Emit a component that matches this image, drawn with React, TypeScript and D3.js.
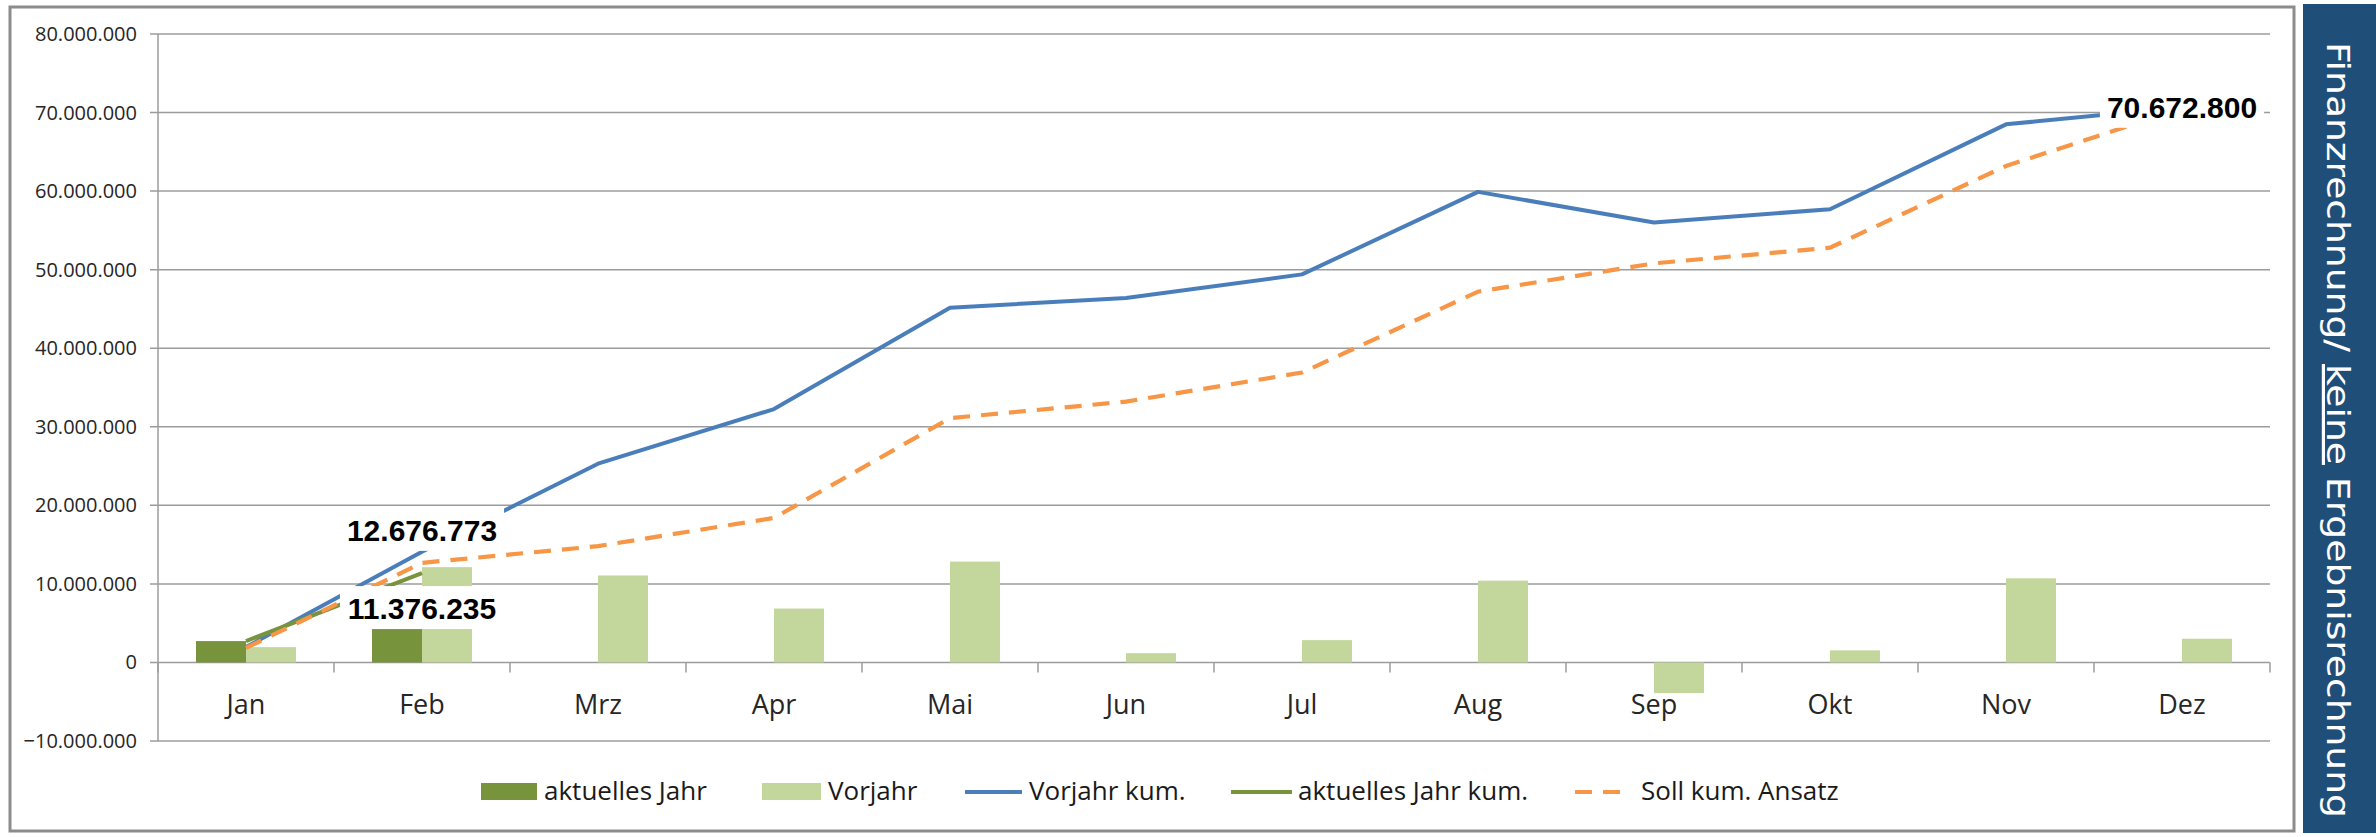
import React from 'react';
import * as d3 from 'd3';

// monthly values (EUR)
const months = ['Jan', 'Feb', 'Mrz', 'Apr', 'Mai', 'Jun', 'Jul', 'Aug', 'Sep', 'Okt', 'Nov', 'Dez'];
const aktuellesJahr = [2720000, 8656235, null, null, null, null, null, null, null, null, null, null];
const vorjahr = [1950000, 12130000, 11070000, 6860000, 12840000, 1180000, 2840000, 10410000, -3900000, 1540000, 10710000, 3020000];
const vorjahrKum = [1950000, 14100000, 25300000, 32250000, 45150000, 46400000, 49400000, 59900000, 56000000, 57700000, 68500000, 70672800];
const aktuellesJahrKum = [2720000, 11376235, null, null, null, null, null, null, null, null, null, null];
const sollKum = [1850000, 12676773, 14800000, 18400000, 31100000, 33200000, 36900000, 47200000, 50800000, 52800000, 63200000, 70500000];
const yTicks = [-10000000, 0, 10000000, 20000000, 30000000, 40000000, 50000000, 60000000, 70000000, 80000000];

const legendItems = ['aktuelles Jahr', 'Vorjahr', 'Vorjahr kum.', 'aktuelles Jahr kum.', 'Soll kum. Ansatz'];

const C_DARK = '#77933C';
const C_LIGHT = '#C3D69B';
const C_BLUE = '#4A7EBB';
const C_ORANGE = '#F79646';
const GRID = '#9c9c9c';
const DASH = '17 11';

const fmt = d3.formatLocale({ decimal: ',', thousands: '.', grouping: [3], currency: ['', ''] }).format(',.0f');

const x = d3.scaleBand<string>().domain(months).range([158, 2270]).paddingInner(0).paddingOuter(0);
const y = d3.scaleLinear().domain([-10000000, 80000000]).range([741, 34]);
const cx = (m: string) => (x(m) as number) + x.bandwidth() / 2;
const barW = x.bandwidth() * 0.284;

const lineGen = d3.line<number | null>()
  .defined(d => d !== null)
  .x((_, i) => cx(months[i]))
  .y(d => y(d as number));

// rough bold Arial text width
const labelWidth = (s: string, fs: number) =>
  s.split('').reduce((w, ch) => w + (ch === '.' ? 0.278 : 0.556), 0) * fs;

function DataLabel({ value, px, py, pos }: { value: number; px: number; py: number; pos: string }) {
  const fs = 30;
  const txt = fmt(value);
  const w = labelWidth(txt, fs);
  let base = py;
  if (pos === 'above') base = py - 22;
  if (pos === 'below') base = py + 46;
  if (pos === 'center') base = py + 10.5;
  return (
    <g>
      <rect x={px - w / 2 - 7} y={base - 33} width={w + 14} height={43} fill="#fff" />
      <text x={px} y={base} textAnchor="middle" fontFamily="'Liberation Sans', Arial, sans-serif"
        fontWeight="bold" fontSize={fs} fill="#000">{txt}</text>
    </g>
  );
}

export default function App() {
  const boundaries = months.map(m => x(m) as number).concat([x.range()[1]]);
  const legendX = [481, 762, 965, 1231, 1575];
  const legendTextX = [544, 828, 1029, 1298, 1641];
  const lgY = 800;

  return (
    <div style={{ position: 'fixed', left: 0, top: 0 }}>
      <svg width={2376} height={837} style={{ display: 'block' }}>
        <rect x={0} y={0} width={2376} height={837} fill="#fff" />
        <rect x={10} y={7} width={2284} height={824} fill="#fff" stroke="#8c8c8c" strokeWidth={3} />

        {/* gridlines + y labels */}
        {yTicks.map(t => (
          <g key={t}>
            <line x1={150} x2={2270} y1={y(t)} y2={y(t)} stroke={GRID} strokeWidth={1.5} />
            <text x={137} y={y(t) + 7} textAnchor="end" fontFamily="'Open Sans', sans-serif" fontSize={20}
              fill="#262626">{fmt(t)}</text>
          </g>
        ))}
        <line x1={158} x2={158} y1={y(80000000)} y2={y(-10000000)} stroke={GRID} strokeWidth={1.5} />
        {boundaries.map((b, i) => (
          <line key={i} x1={b} x2={b} y1={y(0)} y2={y(0) + 10} stroke={GRID} strokeWidth={1.5} />
        ))}

        {/* bars */}
        {months.map((m, i) => {
          const a = aktuellesJahr[i];
          const v = vorjahr[i];
          return (
            <g key={m}>
              {a !== null && (
                <rect x={cx(m) - barW} y={y(Math.max(a, 0))} width={barW}
                  height={Math.abs(y(a) - y(0))} fill={C_DARK} />
              )}
              <rect x={cx(m)} y={y(Math.max(v, 0))} width={barW} height={Math.abs(y(v) - y(0))} fill={C_LIGHT} />
            </g>
          );
        })}

        {/* cumulative lines */}
        <path d={lineGen(vorjahrKum) || ''} fill="none" stroke={C_BLUE} strokeWidth={4} strokeLinejoin="round" />
        <path d={lineGen(aktuellesJahrKum) || ''} fill="none" stroke={C_DARK} strokeWidth={4} strokeLinejoin="round" />
        <path d={lineGen(sollKum) || ''} fill="none" stroke={C_ORANGE} strokeWidth={4.2} strokeDasharray={DASH} />

        {/* data labels */}
        <DataLabel value={sollKum[1]} px={cx('Feb')} py={y(sollKum[1])} pos="above" />
        <DataLabel value={aktuellesJahrKum[1] as number} px={cx('Feb')} py={y(aktuellesJahrKum[1] as number)} pos="below" />
        <DataLabel value={vorjahrKum[11]} px={cx('Dez')} py={y(vorjahrKum[11])} pos="center" />

        {/* x labels */}
        {months.map(m => (
          <text key={m} x={cx(m)} y={714} textAnchor="middle" fontFamily="'Open Sans', sans-serif" fontSize={27}
            fill="#262626">{m}</text>
        ))}

        {/* legend */}
        <rect x={legendX[0]} y={lgY - 17} width={56} height={17} fill={C_DARK} />
        <rect x={legendX[1]} y={lgY - 17} width={59} height={17} fill={C_LIGHT} />
        <line x1={legendX[2]} x2={legendX[2] + 57} y1={lgY - 8} y2={lgY - 8} stroke={C_BLUE} strokeWidth={4} />
        <line x1={legendX[3]} x2={legendX[3] + 61} y1={lgY - 8} y2={lgY - 8} stroke={C_DARK} strokeWidth={4} />
        <line x1={legendX[4]} x2={legendX[4] + 48} y1={lgY - 8} y2={lgY - 8} stroke={C_ORANGE} strokeWidth={4.2}
          strokeDasharray={DASH} />
        {legendItems.map((t, i) => (
          <text key={t} x={legendTextX[i]} y={lgY} fontFamily="'Open Sans', sans-serif" fontSize={26}
            fill="#1a1a1a">{t}</text>
        ))}

        {/* side panel */}
        <rect x={2303} y={4} width={73} height={829} fill="#1F4E79" />
        <text transform="translate(2327,430) rotate(90)" textAnchor="middle" fill="#fff" fontSize={32}
          fontFamily="'Liberation Sans Narrow', 'Arial Narrow', 'DejaVu Sans Condensed', sans-serif"
          textLength={776} lengthAdjust="spacingAndGlyphs">
          Finanzrechnung/ <tspan style={{ textDecoration: 'underline' }}>keine</tspan> Ergebnisrechnung
        </text>
      </svg>
    </div>
  );
}
